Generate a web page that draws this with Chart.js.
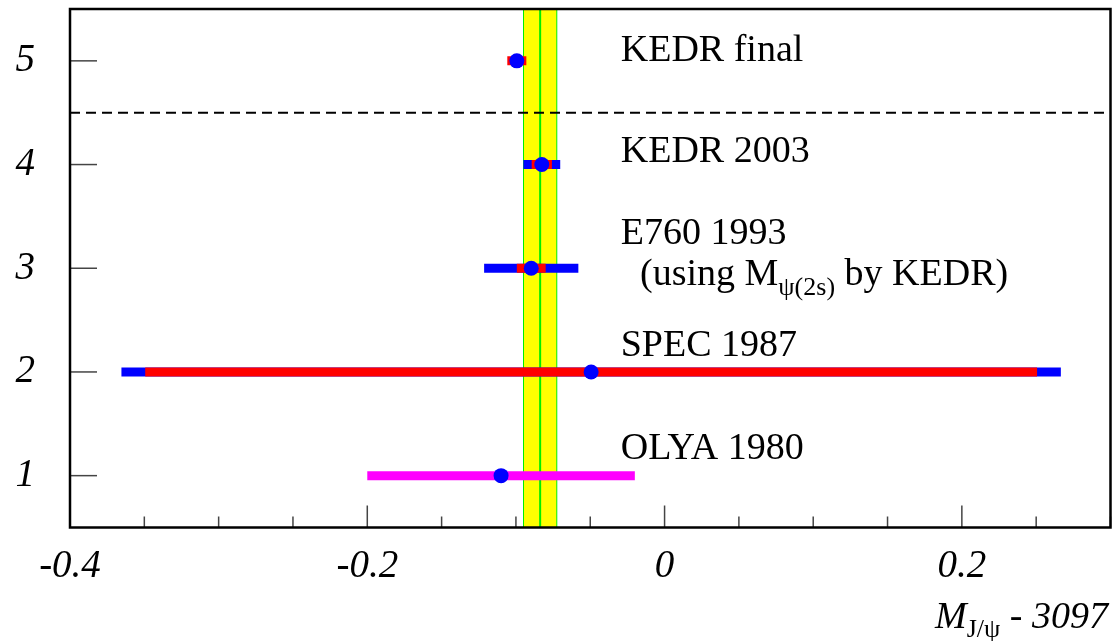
<!DOCTYPE html>
<html>
<head>
<meta charset="utf-8">
<script src="https://cdn.jsdelivr.net/npm/chart.js@4/dist/chart.umd.min.js"></script>
<style>
  body { margin: 0; background: #fff; }
  canvas { display: block; }
</style>
</head>
<body>
<canvas id="massChart" width="1118" height="641"></canvas>
<script>
// measurements, one row per experiment (top to bottom)
const rowY = [5, 4, 3, 2, 1];
const rowNames = ["KEDR final", "KEDR 2003", "E760 1993", "SPEC 1987", "OLYA 1980"];
const centers = [-0.0994, -0.0826, -0.0897, -0.0494, -0.11];
const statErrors = [0.0064, 0.0068, 0.0097, 0.300, null];
const totalErrors = [null, 0.0124, 0.0317, 0.316, null];
const olyaErrors = [null, null, null, null, 0.09];

// average band
const bandCenter = -0.0837;
const bandHalf = 0.0112;
const separatorY = 4.5;

// tick labels
const xLabelTicks = [-0.4, -0.2, 0, 0.2];
const yLabelTicks = [1, 2, 3, 4, 5];

// label anchors (data units)
const labelX = -0.0295;
const labelBaseY = [5.0, 4.02, 3.23, 2.15, 1.16];

const SERIF = '"Liberation Serif", "Times New Roman", serif';

function errorSegments(errs) {
  const out = [];
  errs.forEach((e, i) => {
    if (e == null) return;
    out.push({ x: centers[i] - e, y: rowY[i] });
    out.push({ x: centers[i] + e, y: rowY[i] });
    out.push({ x: NaN, y: NaN });
  });
  return out;
}

const decor = {
  id: "decor",
  beforeDatasetsDraw(chart) {
    const { ctx, chartArea: a, scales: { x, y } } = chart;
    ctx.save();
    const lo = x.getPixelForValue(bandCenter - bandHalf);
    const hi = x.getPixelForValue(bandCenter + bandHalf);
    const c = x.getPixelForValue(bandCenter);
    ctx.fillStyle = "#ffff00";
    ctx.fillRect(lo, a.top, hi - lo, a.bottom - a.top);
    ctx.strokeStyle = "#00ee00";
    ctx.lineWidth = 1;
    [lo, hi].forEach((px) => {
      ctx.beginPath();
      ctx.moveTo(px, a.top);
      ctx.lineTo(px, a.bottom);
      ctx.stroke();
    });
    ctx.lineWidth = 2;
    ctx.beginPath();
    ctx.moveTo(c, a.top);
    ctx.lineTo(c, a.bottom);
    ctx.stroke();

    const sy = y.getPixelForValue(separatorY);
    ctx.strokeStyle = "#000";
    ctx.lineWidth = 2;
    ctx.setLineDash([10, 6]);
    ctx.beginPath();
    ctx.moveTo(a.left, sy);
    ctx.lineTo(a.right, sy);
    ctx.stroke();
    ctx.restore();
  },
  afterDatasetsDraw(chart) {
    const { ctx, chartArea: a, scales: { x, y } } = chart;
    ctx.save();

    // tick marks, inside the frame
    ctx.strokeStyle = "#444";
    ctx.lineWidth = 1.5;
    for (let i = 0; i <= 14; i++) {
      const v = -0.4 + i * 0.05;
      const major = i % 4 === 0;
      const px = x.getPixelForValue(v);
      ctx.beginPath();
      ctx.moveTo(px, a.bottom);
      ctx.lineTo(px, a.bottom - (major ? 22 : 11));
      ctx.stroke();
    }
    yLabelTicks.forEach((v) => {
      const py = y.getPixelForValue(v);
      ctx.beginPath();
      ctx.moveTo(a.left, py);
      ctx.lineTo(a.left + 27, py);
      ctx.stroke();
    });

    // frame
    ctx.strokeStyle = "#000";
    ctx.lineWidth = 2.5;
    ctx.strokeRect(a.left, a.top, a.right - a.left, a.bottom - a.top);

    // experiment labels
    ctx.fillStyle = "#000";
    ctx.textBaseline = "alphabetic";
    ctx.textAlign = "left";
    ctx.font = "38px " + SERIF;
    const lx = x.getPixelForValue(labelX);
    rowNames.forEach((name, i) => {
      ctx.fillText(name, lx, y.getPixelForValue(labelBaseY[i]));
    });

    // second line under E760
    let px = x.getPixelForValue(-0.0165);
    const py = y.getPixelForValue(2.84);
    ctx.font = "38px " + SERIF;
    ctx.fillText("(using M", px, py);
    px += ctx.measureText("(using M").width;
    ctx.font = "26px " + SERIF;
    ctx.fillText("ψ(2s)", px, py + 10);
    px += ctx.measureText("ψ(2s)").width;
    ctx.font = "38px " + SERIF;
    ctx.fillText(" by KEDR)", px, py);

    // axis title, right aligned under the axis
    ctx.textAlign = "right";
    let tx = 1108;
    const ty = 628;
    ctx.font = "italic 38px " + SERIF;
    ctx.fillText(" - 3097", tx, ty);
    tx -= ctx.measureText(" - 3097").width;
    ctx.font = "26px " + SERIF;
    ctx.fillText("J/ψ", tx, ty + 9);
    tx -= ctx.measureText("J/ψ").width;
    ctx.font = "italic 38px " + SERIF;
    ctx.fillText("M", tx, ty);

    ctx.restore();
  }
};

const lineBase = {
  showLine: true,
  pointRadius: 0,
  borderWidth: 9,
  borderCapStyle: "butt",
  spanGaps: false
};

const config = {
  type: "scatter",
  data: {
    datasets: [
      {
        label: "value",
        data: centers.map((c, i) => ({ x: c, y: rowY[i] })),
        pointRadius: 7.5,
        pointBackgroundColor: "#0000ff",
        pointBorderWidth: 0,
        order: 0
      },
      Object.assign({}, lineBase, {
        label: "stat",
        data: errorSegments(statErrors),
        borderColor: "#ff0000",
        order: 1
      }),
      Object.assign({}, lineBase, {
        label: "olya",
        data: errorSegments(olyaErrors),
        borderColor: "#ff00ff",
        order: 1
      }),
      Object.assign({}, lineBase, {
        label: "total",
        data: errorSegments(totalErrors),
        borderColor: "#0000ff",
        order: 2
      })
    ]
  },
  options: {
    responsive: false,
    animation: false,
    layout: {
      padding: { top: 9, right: 7, left: 0, bottom: 0 }
    },
    plugins: {
      legend: { display: false },
      tooltip: { enabled: false }
    },
    scales: {
      x: {
        type: "linear",
        min: -0.4,
        max: 0.3,
        afterBuildTicks: (scale) => {
          scale.ticks = xLabelTicks.map((v) => ({ value: v }));
        },
        afterFit: (scale) => {
          scale.height = 113.5;
          scale.paddingLeft = 0;
          scale.paddingRight = 0;
          scale.paddingTop = 0;
          scale.paddingBottom = 0;
        },
        grid: { display: false, drawTicks: false },
        border: { display: false },
        ticks: {
          autoSkip: false,
          maxRotation: 0,
          padding: 16,
          color: "#000",
          font: { family: SERIF, size: 39, style: "italic" },
          callback: (v) => (v === 0 ? "0" : Number(v).toFixed(1))
        }
      },
      y: {
        type: "linear",
        min: 0.5,
        max: 5.5,
        afterBuildTicks: (scale) => {
          scale.ticks = yLabelTicks.map((v) => ({ value: v }));
        },
        afterFit: (scale) => {
          scale.width = 70;
          scale.paddingLeft = 0;
          scale.paddingRight = 0;
          scale.paddingTop = 0;
          scale.paddingBottom = 0;
        },
        grid: { display: false, drawTicks: false },
        border: { display: false },
        ticks: {
          padding: 35,
          color: "#000",
          font: { family: SERIF, size: 39, style: "italic" },
          callback: (v) => String(v)
        }
      }
    }
  },
  plugins: [decor]
};

new Chart(document.getElementById("massChart"), config);
</script>
</body>
</html>
